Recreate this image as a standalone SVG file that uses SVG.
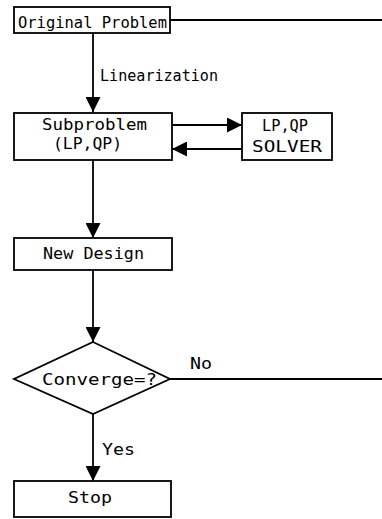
<svg xmlns="http://www.w3.org/2000/svg" width="382" height="519" viewBox="0 0 382 519">
  <style>
    .box { fill: #fff; stroke: #000; stroke-width: 1.8; }
    .lbl { font-family: "DejaVu Sans Mono", "Liberation Mono", monospace; font-size: 15px; fill: #000; }
    .wire { fill: none; stroke: #000; stroke-width: 1.8; }
  </style>
  <defs>
    <marker id="arrow" viewBox="0 0 15 15" refX="15" refY="7.5" markerWidth="15" markerHeight="15" markerUnits="userSpaceOnUse" orient="auto">
      <path d="M0,0 L15,7.5 L0,15 Z" fill="#000"/>
    </marker>
  </defs>
  <rect width="382" height="519" fill="#fff"/>

  <g id="connectors">
    <!-- feed line from the original problem running off to the right -->
    <line class="wire" x1="170" y1="20" x2="382" y2="20"/>
    <line class="wire" x1="93" y1="33" x2="93" y2="112" marker-end="url(#arrow)"/>
    <line class="wire" x1="172" y1="125" x2="242" y2="125" marker-end="url(#arrow)"/>
    <line class="wire" x1="242" y1="149" x2="172" y2="149" marker-end="url(#arrow)"/>
    <line class="wire" x1="93" y1="160" x2="93" y2="238" marker-end="url(#arrow)"/>
    <line class="wire" x1="93" y1="270" x2="93" y2="342" marker-end="url(#arrow)"/>
    <line class="wire" x1="170" y1="379" x2="382" y2="379"/>
    <line class="wire" x1="93" y1="414" x2="93" y2="481" marker-end="url(#arrow)"/>
    <text class="lbl" x="100" y="81" textLength="118" lengthAdjust="spacingAndGlyphs">Linearization</text>
    <text class="lbl" x="190" y="369" textLength="22" lengthAdjust="spacingAndGlyphs">No</text>
    <text class="lbl" x="102" y="455" textLength="33" lengthAdjust="spacingAndGlyphs">Yes</text>
  </g>

  <g id="original-problem">
    <rect class="box" x="14" y="7" width="156" height="26"/>
    <text class="lbl" x="18" y="28" textLength="149" lengthAdjust="spacingAndGlyphs">Original Problem</text>
  </g>

  <g id="subproblem">
    <rect class="box" x="14" y="113" width="158" height="47"/>
    <text class="lbl" x="42" y="130" textLength="105" lengthAdjust="spacingAndGlyphs">Subproblem</text>
    <text class="lbl" x="53" y="149" textLength="69" lengthAdjust="spacingAndGlyphs">(LP,QP)</text>
  </g>

  <g id="solver">
    <rect class="box" x="242" y="113" width="90" height="47"/>
    <text class="lbl" x="262" y="131" textLength="46" lengthAdjust="spacingAndGlyphs">LP,QP</text>
    <text class="lbl" x="252" y="152" textLength="70" lengthAdjust="spacingAndGlyphs">SOLVER</text>
  </g>

  <g id="new-design">
    <rect class="box" x="14" y="238" width="158" height="32"/>
    <text class="lbl" x="43" y="259" textLength="101" lengthAdjust="spacingAndGlyphs">New Design</text>
  </g>

  <g id="converge">
    <polygon class="box" points="93,342 170,379 93,414 14,379"/>
    <text class="lbl" x="42" y="385" textLength="115" lengthAdjust="spacingAndGlyphs">Converge=?</text>
  </g>

  <g id="stop">
    <rect class="box" x="14" y="481" width="157" height="36"/>
    <text class="lbl" x="68" y="503" textLength="44" lengthAdjust="spacingAndGlyphs">Stop</text>
  </g>
</svg>
